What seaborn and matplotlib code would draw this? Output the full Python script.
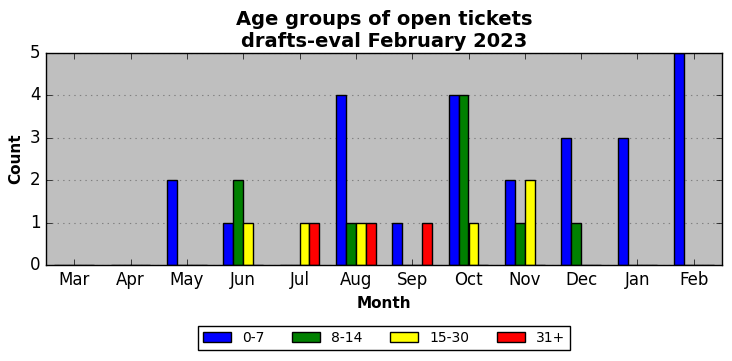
import matplotlib
matplotlib.use('Agg')
import matplotlib.pyplot as plt
import pandas as pd
import seaborn as sns

months = ['Mar', 'Apr', 'May', 'Jun', 'Jul', 'Aug', 'Sep', 'Oct', 'Nov', 'Dec', 'Jan', 'Feb']
groups = ['0-7', '8-14', '15-30', '31+']
counts = {
    '0-7':   [0, 0, 2, 1, 0, 4, 1, 4, 2, 3, 3, 5],
    '8-14':  [0, 0, 0, 2, 0, 1, 0, 4, 1, 1, 0, 0],
    '15-30': [0, 0, 0, 1, 1, 1, 0, 1, 2, 0, 0, 0],
    '31+':   [0, 0, 0, 0, 1, 1, 1, 0, 0, 0, 0, 0],
}
colors = ['blue', 'green', 'yellow', 'red']

df = pd.DataFrame(counts, index=months).reset_index(names='Month')
df = df.melt(id_vars='Month', var_name='Age', value_name='Count')

plt.style.use('classic')
plt.rcParams['font.family'] = 'DejaVu Sans'

fig = plt.figure(figsize=(7.32, 3.61), dpi=100, facecolor='white')
ax = fig.add_axes([46 / 732, 1 - 265 / 361, 676 / 732, 212 / 361])
ax.set_facecolor('#bfbfbf')

sns.barplot(data=df, x='Month', y='Count', hue='Age', order=months, hue_order=groups,
            palette=colors, width=0.7, edgecolor='black', linewidth=1, saturation=1,
            legend=True, ax=ax)

ax.set_xlim(-0.5, len(months) - 0.5)
ax.set_ylim(0, 5)
ax.set_yticks(range(6))
ax.yaxis.grid(True, linestyle=':', color='#808080', linewidth=0.8)
ax.xaxis.grid(False)
ax.set_axisbelow(True)
ax.tick_params(labelsize=12, direction='in', top=True, right=True)
ax.set_xlabel('Month', fontsize=11, fontweight='bold')
ax.set_ylabel('Count', fontsize=11, fontweight='bold')
ax.set_title('Age groups of open tickets\ndrafts-eval February 2023', fontsize=14,
             fontweight='bold', pad=4)

ax.legend(loc='upper center', bbox_to_anchor=(0.5, -0.255), ncol=4, fontsize=10,
          frameon=True, fancybox=False, edgecolor='black', handlelength=2,
          columnspacing=2.0, borderpad=0.35)

fig.savefig('out.png', dpi=100, facecolor='white')
